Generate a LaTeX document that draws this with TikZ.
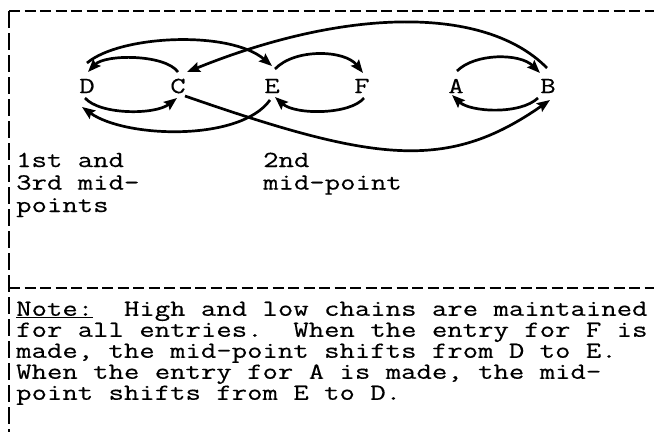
\documentclass[tikz,border=0pt]{standalone}
\usepackage{fontspec}
\newfontfamily\tw[FakeStretch=1.30,FakeBold=0.4]{Latin Modern Mono}
\usetikzlibrary{arrows.meta}
\begin{document}
\begin{tikzpicture}[x=1pt,y=-1pt,
  letter/.style={font={\tw\fontsize{23}{23}\selectfont}, inner sep=0pt},
  lbl/.style={font={\tw\fontsize{23}{22.5}\selectfont}, align=left, anchor=north west, inner sep=0pt},
  notetext/.style={font={\tw\fontsize{23}{21}\selectfont}, align=left, anchor=north west, inner sep=0pt},
  chain/.style={line width=2.7pt, -{Stealth[length=13pt,width=10pt,inset=2pt]}},
  hborder/.style={line width=2.4pt, dash pattern=on 11pt off 4.5pt},
  vborder/.style={line width=2.4pt, dash pattern=on 17pt off 5pt}
]
\useasboundingbox[fill=white] (0,0) rectangle (654,432);

% borders
\coordinate (tl) at (9,11);
\coordinate (tr) at (654,11);
\coordinate (bl) at (9,432);
\coordinate (ml) at (9,288);
\coordinate (mr) at (654,288);
\draw[vborder] (tl) -- (bl);
\draw[hborder] (tl) -- (tr);
\draw[hborder] (ml) -- (mr);

% letters
\node[letter] (D) at (87,86) {D};
\node[letter] (C) at (178,86) {C};
\node[letter] (E) at (272,86) {E};
\node[letter] (F) at (362,86) {F};
\node[letter] (A) at (456,86) {A};
\node[letter] (B) at (548,86) {B};

% upper chain (ascending)
\draw[chain] ([shift={(1,-15)}]A.center) .. controls (475,53) and (520,53) .. ([shift={(-8,-13)}]B.center);
\draw[chain] ([shift={(-1,-18)}]B.center) .. controls (485,5) and (345,8) .. ([shift={(9,-14)}]C.center);
\draw[chain] ([shift={(0,-14)}]C.center) .. controls (165,54) and (105,54) .. ([shift={(1,-14)}]D.center);
\draw[chain] ([shift={(0,-23)}]D.center) .. controls (120,35) and (230,30) .. ([shift={(0,-20)}]E.center);
\draw[chain] ([shift={(3,-17)}]E.center) .. controls (295,48) and (345,50) .. ([shift={(1,-13)}]F.center);

% lower chain (descending)
\draw[chain] ([shift={(2,12)}]F.center) .. controls (350,115) and (295,115) .. ([shift={(3,11)}]E.center);
\draw[chain] ([shift={(-2,14)}]E.center) .. controls (240,142) and (125,138) .. ([shift={(-5,21)}]D.center);
\draw[chain] ([shift={(-2,12)}]D.center) .. controls (100,115) and (155,115) .. ([shift={(-1,12)}]C.center);
\draw[chain] ([shift={(7,10)}]C.center) .. controls (375,162) and (447,172) .. ([shift={(2,14)}]B.center);
\draw[chain] ([shift={(-10,12)}]B.center) .. controls (520,115) and (470,112) .. ([shift={(-4,9)}]A.center);

% labels
\node[lbl] (lab1) at (16,152.5) {1st and\\3rd mid-\\points};
\node[lbl] (lab2) at (263,152.5) {2nd\\mid-point};

% note
\node[notetext] (note) at (16,301.5) {\underline{Note:}\ \ High and low chains are maintained\\for all entries.\ \ When the entry for F is\\made, the mid-point shifts from D to E.\\When the entry for A is made, the mid-\\point shifts from E to D.};
\end{tikzpicture}
\end{document}
